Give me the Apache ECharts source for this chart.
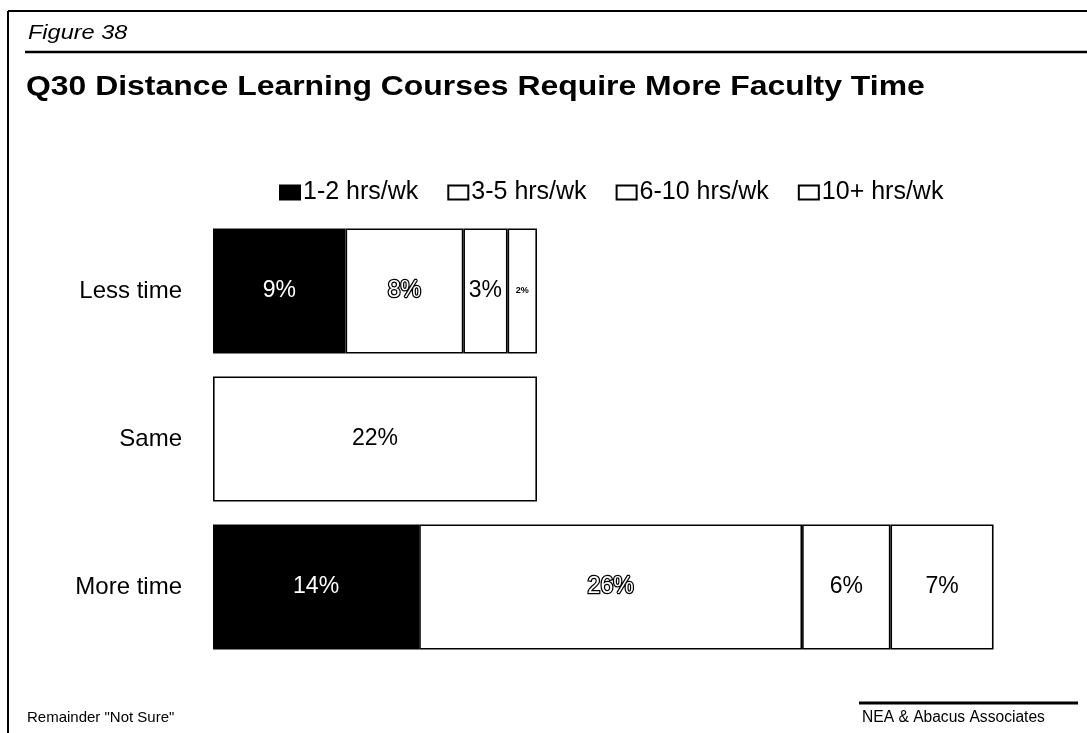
<!DOCTYPE html>
<html>
<head>
<meta charset="utf-8">
<script src="https://cdn.jsdelivr.net/npm/echarts@6/dist/echarts.min.js"></script>
<style>
  html, body { margin: 0; padding: 0; background: #fff; }
  #chart { width: 1087px; height: 733px; }
</style>
</head>
<body>
<div id="chart"></div>
<script>
// Survey answers: share of respondents by extra faculty hours per week
const categories = ['Less time', 'Same', 'More time'];
const seriesNames = ['1-2 hrs/wk', '3-5 hrs/wk', '6-10 hrs/wk', '10+ hrs/wk'];
const hrs1to2 = [9, null, 14];
const hrs3to5 = [8, null, 26];
const hrs6to10 = [3, null, 6];
const hrs10plus = [2, null, 7];
const sameTime = [null, 22, null];

const FONT = '"Liberation Sans", Arial, sans-serif';

function toData(values, labelOverrides) {
  return values.map((v, i) => {
    if (v === null) return '-';
    const item = { value: v };
    if (labelOverrides && labelOverrides[i]) item.label = labelOverrides[i];
    return item;
  });
}

const barLabel = {
  show: true,
  position: 'inside',
  formatter: '{c}%',
  fontFamily: FONT,
  fontSize: 23,
  color: '#000'
};

function barSeries(name, values, fill, labelExtra, labelOverrides) {
  return {
    type: 'bar',
    name: name,
    stack: 'total',
    barWidth: 125,
    emphasis: { disabled: true },
    itemStyle: { color: fill, borderColor: '#000', borderWidth: 1.6 },
    label: Object.assign({}, barLabel, labelExtra || {}),
    data: toData(values, labelOverrides)
  };
}

const chart = echarts.init(document.getElementById('chart'));
chart.setOption({
  backgroundColor: '#fff',
  animation: false,
  textStyle: { fontFamily: FONT },
  legend: {
    data: seriesNames,
    left: 274,
    top: 175,
    itemWidth: 20,
    itemHeight: 14,
    itemGap: 29,
    icon: 'rect',
    textStyle: { fontFamily: FONT, fontSize: 25, color: '#000', padding: [0, 0, 0, -2] }
  },
  grid: { left: 213, right: 64, top: 217, bottom: 72 },
  xAxis: {
    type: 'value',
    min: 0,
    max: 55,
    show: false,
    splitLine: { show: false }
  },
  yAxis: {
    type: 'category',
    data: categories,
    inverse: true,
    axisLine: { show: false },
    axisTick: { show: false },
    axisLabel: { fontFamily: FONT, fontSize: 24, color: '#000', margin: 31 }
  },
  series: [
    barSeries(seriesNames[0], hrs1to2, '#000', { color: '#fff' }),
    barSeries(seriesNames[1], hrs3to5, '#fff', { color: '#fff', textBorderColor: '#000', textBorderWidth: 2.5 }),
    barSeries(seriesNames[2], hrs6to10, '#fff'),
    barSeries(seriesNames[3], hrs10plus, '#fff', null, [{ fontSize: 9, fontWeight: 'bold' }, null, null]),
    barSeries('Same', sameTime, '#fff')
  ],
  graphic: [
    // page frame
    { type: 'line', shape: { x1: 8, y1: 11, x2: 1087, y2: 11 }, style: { stroke: '#000', lineWidth: 2 } },
    { type: 'line', shape: { x1: 8, y1: 11, x2: 8, y2: 733 }, style: { stroke: '#000', lineWidth: 2 } },
    // figure heading
    { type: 'text', x: 28, y: 23, scaleX: 1.12, style: { x: 0, y: 0, text: 'Figure 38', font: 'italic 21px ' + FONT, fill: '#000', textVerticalAlign: 'top' } },
    { type: 'line', shape: { x1: 25, y1: 52, x2: 1087, y2: 52 }, style: { stroke: '#000', lineWidth: 2.5 } },
    { type: 'text', x: 26, y: 73, scaleX: 1.14, style: { x: 0, y: 0, text: 'Q30 Distance Learning Courses Require More Faculty Time', font: 'bold 28px ' + FONT, fill: '#000', textVerticalAlign: 'top' } },
    // footer
    { type: 'text', left: 27, top: 710, style: { text: 'Remainder "Not Sure"', font: '15px ' + FONT, fill: '#000' } },
    { type: 'line', shape: { x1: 859, y1: 703, x2: 1078, y2: 703 }, style: { stroke: '#000', lineWidth: 3 } },
    { type: 'text', left: 862, top: 710, style: { text: 'NEA & Abacus Associates', font: '15.6px ' + FONT, fill: '#000' } }
  ]
});
</script>
</body>
</html>
